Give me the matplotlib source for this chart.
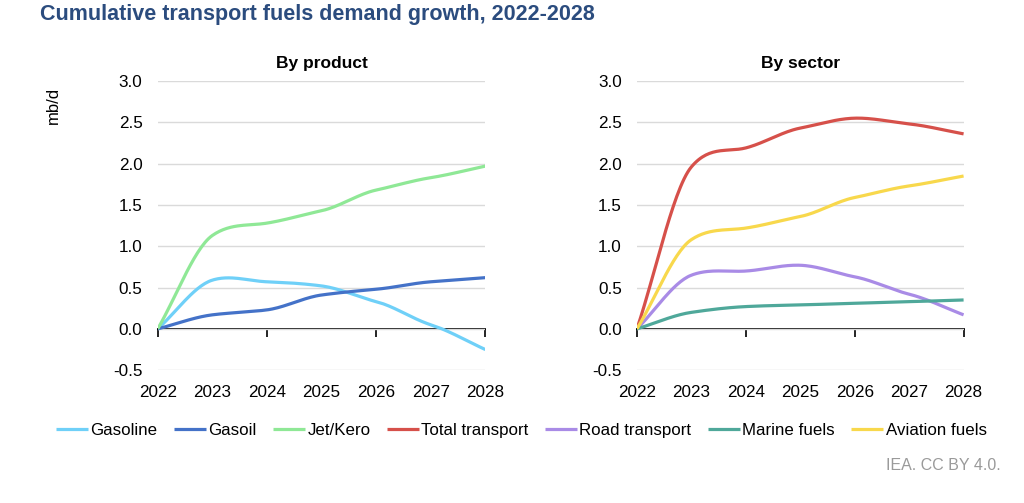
import matplotlib
matplotlib.use('Agg')

import numpy as np
import matplotlib.pyplot as plt

plt.rcParams['font.family'] = ['Liberation Sans', 'DejaVu Sans']

years = [2022, 2023, 2024, 2025, 2026, 2027, 2028]

# By product (mb/d, cumulative vs 2022)
gasoline = [0.0, 0.59, 0.57, 0.52, 0.33, 0.05, -0.25]
gasoil = [0.0, 0.17, 0.23, 0.41, 0.48, 0.57, 0.62]
jet_kero = [0.0, 1.13, 1.28, 1.43, 1.68, 1.83, 1.97]

# By sector
total_transport = [0.0, 1.96, 2.19, 2.43, 2.55, 2.48, 2.36]
road_transport = [0.0, 0.65, 0.70, 0.77, 0.63, 0.42, 0.17]
marine_fuels = [0.0, 0.20, 0.27, 0.29, 0.31, 0.33, 0.35]
aviation_fuels = [0.0, 1.08, 1.22, 1.36, 1.59, 1.73, 1.85]

colors = {
    'Gasoline': '#6fd0f8',
    'Gasoil': '#4472c8',
    'Jet/Kero': '#8fe896',
    'Total transport': '#d6504a',
    'Road transport': '#a98be6',
    'Marine fuels': '#4fa89a',
    'Aviation fuels': '#f8d84c',
}


def smooth(x, y, n=30, s=0.36):
    # cardinal spline through the yearly points (like excel's smoothed line)
    x = np.asarray(x, float)
    y = np.asarray(y, float)
    m = np.zeros_like(y)
    m[1:-1] = s * (y[2:] - y[:-2])
    m[0] = y[1] - y[0]
    m[-1] = y[-1] - y[-2]
    t = np.linspace(0, 1, n, endpoint=False)
    h00 = 2 * t**3 - 3 * t**2 + 1
    h10 = t**3 - 2 * t**2 + t
    h01 = -2 * t**3 + 3 * t**2
    h11 = t**3 - t**2
    xs, ys = [], []
    for i in range(len(x) - 1):
        xs.extend(x[i] + t * (x[i + 1] - x[i]))
        ys.extend(h00 * y[i] + h10 * m[i] + h01 * y[i + 1] + h11 * m[i + 1])
    xs.append(x[-1])
    ys.append(y[-1])
    return np.array(xs), np.array(ys)


fig = plt.figure(figsize=(10.24, 5.03), dpi=100)
ax1 = fig.add_axes([0.154, 0.264, 0.320, 0.575])
ax2 = fig.add_axes([0.622, 0.264, 0.319, 0.575])


def style(ax, title):
    ax.set_xlim(2022, 2028)
    ax.set_ylim(-0.5, 3.0)
    ax.set_yticks(np.arange(-0.5, 3.01, 0.5))
    ax.set_yticklabels(['%.1f' % v for v in np.arange(-0.5, 3.01, 0.5)])
    ax.set_xticks(years)
    ax.grid(axis='y', color='#dadada', linewidth=1)
    ax.set_axisbelow(True)
    for s in ax.spines.values():
        s.set_visible(False)
    ax.tick_params(axis='both', length=0, labelsize=12.3, colors='black')
    ax.tick_params(axis='x', pad=11)
    ax.tick_params(axis='y', pad=11)
    # zero line with ticks every two years
    sec = ax.secondary_xaxis(0.5 / 3.5)
    sec.set_xticks([2022, 2024, 2026, 2028])
    sec.set_xticklabels([])
    sec.tick_params(direction='out', length=6, width=1.2, color='black')
    sec.spines['bottom'].set_color('black')
    sec.spines['bottom'].set_linewidth(1.3)
    ax.set_title(title, fontsize=12.5, fontweight='bold', pad=9)


style(ax1, 'By product')
style(ax2, 'By sector')

for name, vals in [('Gasoline', gasoline), ('Gasoil', gasoil), ('Jet/Kero', jet_kero)]:
    xs, ys = smooth(years, vals)
    ax1.plot(xs, ys, color=colors[name], linewidth=2.3, label=name, solid_capstyle='butt')

for name, vals in [('Total transport', total_transport), ('Road transport', road_transport),
                   ('Marine fuels', marine_fuels), ('Aviation fuels', aviation_fuels)]:
    xs, ys = smooth(years, vals)
    ax2.plot(xs, ys, color=colors[name], linewidth=2.3, label=name, solid_capstyle='butt')

h1, l1 = ax1.get_legend_handles_labels()
h2, l2 = ax2.get_legend_handles_labels()
fig.legend(h1 + h2, l1 + l2, loc='center', bbox_to_anchor=(0.509, 0.145), ncol=7,
           frameon=False, fontsize=12.2, handlelength=1.9, handletextpad=0.15,
           columnspacing=0.95, borderpad=0.2)

fig.text(0.039, 0.992, 'Cumulative transport fuels demand growth, 2022-2028',
         fontsize=15.5, fontweight='bold', color='#2b4c7e', va='top')
fig.text(0.052, 0.79, 'mb/d', rotation=90, fontsize=12, va='center', ha='center')
fig.text(0.977, 0.075, 'IEA. CC BY 4.0.', fontsize=11.5, color='#9a9a9a', ha='right', va='center')

fig.savefig('out.png', dpi=100)
